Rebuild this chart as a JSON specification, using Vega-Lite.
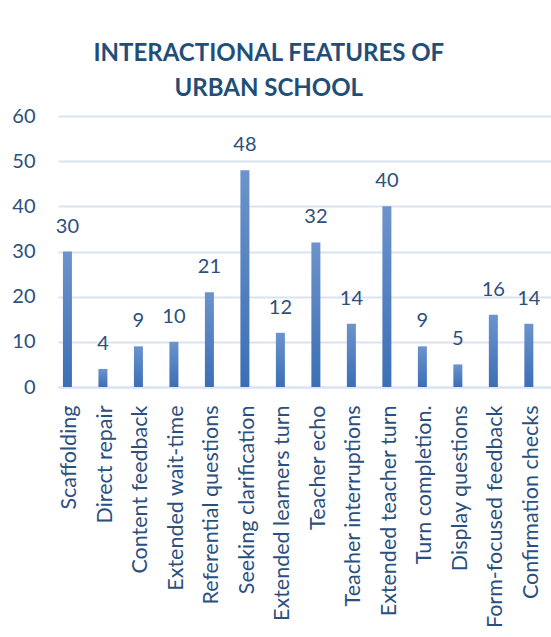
{
  "$schema": "https://vega.github.io/schema/vega-lite/v6.json",
  "autosize": "none",
  "width": 493,
  "height": 271,
  "padding": {"left": 58, "top": 116, "right": 0, "bottom": 250},
  "background": "white",
  "data": {"values": [
    {"feature": "Scaffolding", "count": 30},
    {"feature": "Direct repair", "count": 4},
    {"feature": "Content feedback", "count": 9},
    {"feature": "Extended wait-time", "count": 10},
    {"feature": "Referential questions", "count": 21},
    {"feature": "Seeking clarification", "count": 48},
    {"feature": "Extended learners turn", "count": 12},
    {"feature": "Teacher echo", "count": 32},
    {"feature": "Teacher interruptions", "count": 14},
    {"feature": "Extended teacher turn", "count": 40},
    {"feature": "Turn completion.", "count": 9},
    {"feature": "Display questions", "count": 5},
    {"feature": "Form-focused feedback", "count": 16},
    {"feature": "Confirmation checks", "count": 14}
  ]},
  "title": {
    "text": ["INTERACTIONAL FEATURES OF", "URBAN SCHOOL"],
    "font": "Lato",
    "fontSize": 24,
    "fontWeight": "bold",
    "color": "#1F4E79",
    "anchor": "start",
    "align": "center",
    "dx": 257,
    "dy": 45,
    "offset": 26,
    "lineHeight": 35,
    "baseline": "bottom"
  },
  "config": {
    "view": {"stroke": null},
    "axis": {"labelFont": "Lato", "labelColor": "#2B4F7E"}
  },
  "layer": [
    {
      "mark": {
        "type": "bar",
        "width": 9,
        "color": {
          "gradient": "linear",
          "x1": 0, "y1": 0, "x2": 0, "y2": 1,
          "stops": [
            {"offset": 0, "color": "#6C93CC"},
            {"offset": 1, "color": "#3B6FB5"}
          ]
        }
      },
      "encoding": {
        "x": {
          "field": "feature",
          "type": "nominal",
          "sort": null,
          "scale": {"paddingInner": 0.75, "paddingOuter": 0.32, "align": 0.22},
          "axis": {
            "title": null,
            "labelAngle": -90,
            "labelFontSize": 21.5,
            "labelPadding": 18,
            "labelOffset": 3,
            "ticks": false,
            "domain": true,
            "domainColor": "#D9E3F1",
            "domainWidth": 2,
            "labelLimit": 300
          }
        },
        "y": {
          "field": "count",
          "type": "quantitative",
          "scale": {"domain": [0, 60]},
          "axis": {
            "title": null,
            "values": [0, 10, 20, 30, 40, 50, 60],
            "labelFontSize": 20,
            "labelPadding": 23,
            "ticks": false,
            "domain": false,
            "gridColor": "#D9E3F1",
            "gridWidth": 2
          }
        }
      }
    },
    {
      "mark": {"type": "text", "font": "Lato", "fontSize": 20, "color": "#2B4F7E", "baseline": "bottom", "dy": -15},
      "encoding": {
        "x": {"field": "feature", "type": "nominal", "sort": null},
        "y": {"field": "count", "type": "quantitative"},
        "text": {"field": "count", "type": "quantitative"}
      }
    }
  ]
}
